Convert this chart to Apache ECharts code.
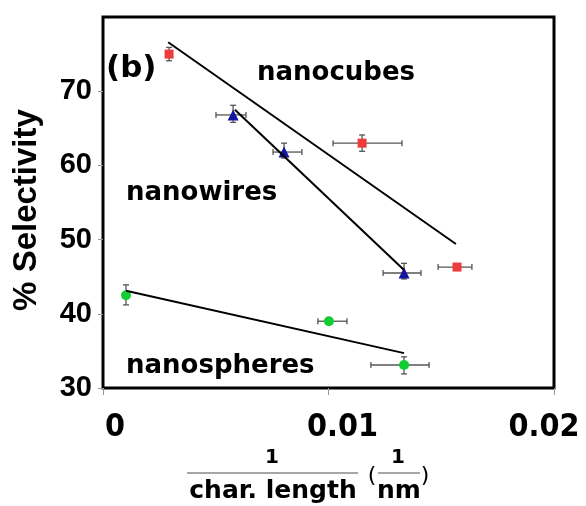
<!DOCTYPE html>
<html><head><meta charset="utf-8">
<script src="https://cdn.jsdelivr.net/npm/echarts@6/dist/echarts.min.js"></script>
<style>html,body{margin:0;padding:0;background:#fff}#c{width:586px;height:506px}</style>
</head><body><div id="c"></div>
<script>
// x = 1/char. length (1/nm), y = % selectivity
// each point: [x, y, xLow, xHigh, yLow, yHigh]
var nanocubes = [
  [0.00293, 75.0, 0.00293, 0.00293, 74.1, 75.9],
  [0.01149, 63.0, 0.0102, 0.01326, 61.9, 64.1],
  [0.0157, 46.3, 0.01486, 0.01636, 45.9, 46.7]
];
var nanowires = [
  [0.00577, 66.8, 0.00501, 0.00634, 65.8, 68.1],
  [0.00803, 61.8, 0.00754, 0.00882, 61.0, 63.0],
  [0.01335, 45.5, 0.01242, 0.0141, 44.7, 46.8]
];
var nanospheres = [
  [0.00102, 42.5, 0.00102, 0.00102, 41.2, 43.9],
  [0.01002, 39.0, 0.00953, 0.01082, 38.7, 39.3],
  [0.01335, 33.1, 0.01188, 0.01446, 31.9, 34.2]
];
// linear fit lines (endpoints)
var fitCubes = [[0.00289, 76.6], [0.01565, 49.4]];
var fitWires = [[0.00585, 67.5], [0.01335, 45.9]];
var fitSpheres = [[0.00102, 43.1], [0.01335, 34.7]];
var xTicks = [0, 0.01, 0.02];
var xTickLabels = ['0', '0.01', '0.02'];
var yTicks = [30, 40, 50, 60, 70];

var chart = echarts.init(document.getElementById('c'), null, {renderer: 'canvas'});

function errRender(params, api) {
  var x = api.value(0), y = api.value(1);
  var c = api.coord([x, y]);
  var xl = api.coord([api.value(2), y]), xh = api.coord([api.value(3), y]);
  var yl = api.coord([x, api.value(4)]), yh = api.coord([x, api.value(5)]);
  var cap = 3;
  var st = {stroke: '#555', lineWidth: 1.3};
  var ch = [];
  if (Math.abs(xh[0] - xl[0]) > 1) {
    ch.push({type: 'line', shape: {x1: xl[0], y1: c[1], x2: xh[0], y2: c[1]}, style: st});
    ch.push({type: 'line', shape: {x1: xl[0], y1: c[1] - cap, x2: xl[0], y2: c[1] + cap}, style: st});
    ch.push({type: 'line', shape: {x1: xh[0], y1: c[1] - cap, x2: xh[0], y2: c[1] + cap}, style: st});
  }
  if (Math.abs(yh[1] - yl[1]) > 1) {
    ch.push({type: 'line', shape: {x1: c[0], y1: yl[1], x2: c[0], y2: yh[1]}, style: st});
    ch.push({type: 'line', shape: {x1: c[0] - cap, y1: yl[1], x2: c[0] + cap, y2: yl[1]}, style: st});
    ch.push({type: 'line', shape: {x1: c[0] - cap, y1: yh[1], x2: c[0] + cap, y2: yh[1]}, style: st});
  }
  return {type: 'group', children: ch};
}

function errSeries(d) {
  return {type: 'custom', renderItem: errRender, data: d, z: 2,
    encode: {x: [0, 2, 3], y: [1, 4, 5]}, silent: true};
}
function fitSeries(d) {
  return {type: 'line', data: d, symbol: 'none', z: 4,
    lineStyle: {color: '#000', width: 2}, silent: true};
}
function ptSeries(d, sym, size, color) {
  return {type: 'scatter', data: d.map(function (p) { return [p[0], p[1]]; }),
    symbol: sym, symbolSize: size, z: 3,
    itemStyle: {color: color, opacity: 1}, silent: true};
}

var xf = {fontFamily: '"DejaVu Sans Condensed", "DejaVu Sans"', fontWeight: 'bold', fontSize: 32, color: '#000'};
function rs(pad) { return Object.assign({padding: pad}, xf); }

chart.setOption({
  animation: false,
  grid: {left: 103, right: 32, top: 17, bottom: 118, show: true, containLabel: false,
    outerBoundsMode: 'none',
    borderColor: '#000', borderWidth: 3, backgroundColor: 'transparent'},
  xAxis: {type: 'value', min: xTicks[0], max: xTicks[xTicks.length - 1], interval: 0.01,
    axisLine: {show: false}, splitLine: {show: false},
    axisTick: {show: true, length: 7, lineStyle: {color: '#999', width: 1}},
    axisLabel: Object.assign({margin: 24,
      formatter: function (v) {
        var i = xTicks.indexOf(v);
        return '{' + ['a', 'b', 'c'][i] + '|' + xTickLabels[i] + '}';
      },
      rich: {a: rs([0, 0, 0, 24]), b: rs([0, 0, 0, 28]), c: rs([0, 20, 0, 0])}}, xf)},
  yAxis: {type: 'value', min: 30, max: 80, interval: 10,
    axisLine: {show: false}, splitLine: {show: false},
    axisTick: {show: true, length: 5, lineStyle: {color: '#999', width: 1}},
    axisLabel: {margin: 11, fontFamily: 'Liberation Sans', fontWeight: 'bold', fontSize: 29, color: '#000',
      showMaxLabel: false,
      formatter: function (v) { return yTicks.indexOf(v) >= 0 ? String(v) : ''; }}},
  series: [
    errSeries(nanocubes), errSeries(nanowires), errSeries(nanospheres),
    ptSeries(nanocubes, 'rect', 9, '#ee3b3b'),
    ptSeries(nanowires, 'triangle', 11, '#1515a0'),
    ptSeries(nanospheres, 'circle', 10, '#11cc33'),
    fitSeries(fitCubes), fitSeries(fitWires), fitSeries(fitSpheres)
  ],
  graphic: [
    {type: 'text', left: 106, top: 53, style: {text: '(b)', font: 'bold 31px "DejaVu Sans"', fill: '#000'}},
    {type: 'text', left: 257, top: 60, style: {text: 'nanocubes', font: 'bold 26px "DejaVu Sans"', fill: '#000'}},
    {type: 'text', left: 126, top: 180, style: {text: 'nanowires', font: 'bold 26px "DejaVu Sans"', fill: '#000'}},
    {type: 'text', left: 126, top: 353, style: {text: 'nanospheres', font: 'bold 26px "DejaVu Sans"', fill: '#000'}},
    {type: 'text', x: 27, y: 210, rotation: Math.PI / 2,
      style: {text: '% Selectivity', font: 'bold 33px "Liberation Sans"', fill: '#000',
        textAlign: 'center', textVerticalAlign: 'middle'}},
    // x-axis name: fraction 1 / char. length (1/nm)
    {type: 'text', x: 272, y: 458, style: {text: '1', font: 'bold 20px "DejaVu Sans"', fill: '#000', textAlign: 'center', textVerticalAlign: 'middle'}},
    {type: 'line', shape: {x1: 187, y1: 473, x2: 358, y2: 473}, style: {stroke: '#888', lineWidth: 1.5}},
    {type: 'text', x: 273, y: 491, style: {text: 'char. length', font: 'bold 25px "DejaVu Sans"', fill: '#000', textAlign: 'center', textVerticalAlign: 'middle'}},
    {type: 'text', x: 372, y: 476, style: {text: '(', font: '22px "DejaVu Sans"', fill: '#000', textAlign: 'center', textVerticalAlign: 'middle'}},
    {type: 'text', x: 398, y: 458, style: {text: '1', font: 'bold 20px "DejaVu Sans"', fill: '#000', textAlign: 'center', textVerticalAlign: 'middle'}},
    {type: 'line', shape: {x1: 378, y1: 473, x2: 420, y2: 473}, style: {stroke: '#888', lineWidth: 1.5}},
    {type: 'text', x: 399, y: 491, style: {text: 'nm', font: 'bold 25px "DejaVu Sans"', fill: '#000', textAlign: 'center', textVerticalAlign: 'middle'}},
    {type: 'text', x: 425, y: 476, style: {text: ')', font: '22px "DejaVu Sans"', fill: '#000', textAlign: 'center', textVerticalAlign: 'middle'}}
  ]
});
</script></body></html>
